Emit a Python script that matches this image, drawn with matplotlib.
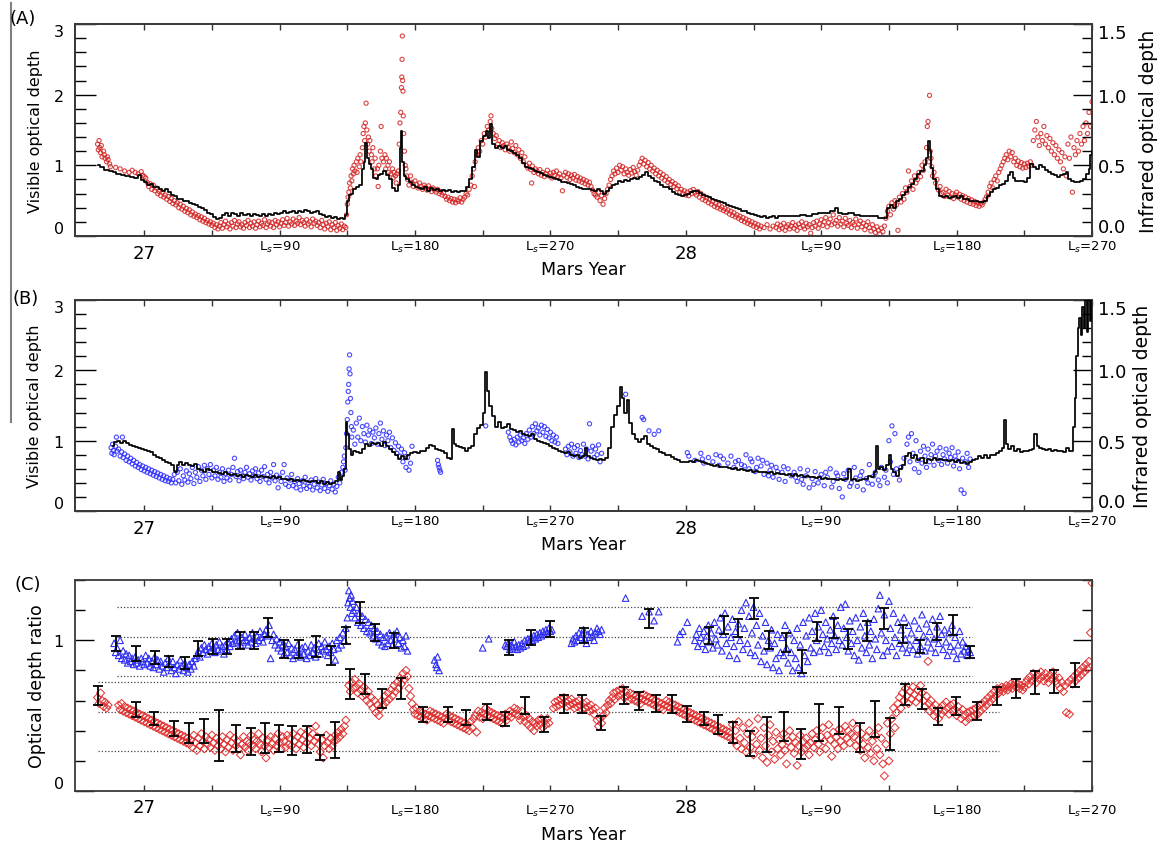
import numpy as np
import matplotlib.pyplot as plt
from matplotlib.ticker import MultipleLocator, FormatStrFormatter

plt.rcParams['font.family'] = 'DejaVu Sans'

# continuous Ls axis: MY27 Ls=0 -> 0, MY28 Ls=0 -> 360
season_ls = [0, 90, 180, 270, 360, 450, 540, 630]
season_labels = ['27', 'L$_s$=90', 'L$_s$=180', 'L$_s$=270',
                 '28', 'L$_s$=90', 'L$_s$=180', 'L$_s$=270']
year_ls = [0, 360]

# (A) infrared optical depth, black line (Ls, tau_IR)
ir_a = [
    (-31, .500), (-28, .485), (-25, .470), (-22, .460), (-20, .450), (-17, .440), (-14, .430), (-11, .425),
    (-8, .415), (-5, .410), (-3, .430), (-1, .395), (1, .380), (3, .360), (5, .370), (7, .350), (9, .345),
    (11, .330), (13, .315), (15, .335), (17, .310), (19, .290), (21, .285), (23, .265), (25, .260), (27, .250),
    (29, .245), (31, .235), (33, .225), (35, .220), (37, .205), (39, .200), (41, .185), (43, .165), (45, .155),
    (47, .135), (49, .120), (51, .130), (53, .150), (55, .160), (57, .145), (59, .165), (61, .155), (63, .145),
    (65, .160), (67, .150), (69, .155), (71, .145), (73, .155), (75, .150), (77, .140), (79, .155), (81, .145),
    (83, .155), (85, .150), (87, .165), (89, .155), (91, .165), (93, .175), (95, .160), (97, .170), (99, .180),
    (101, .165), (103, .180), (105, .170), (107, .185), (109, .175), (111, .165), (113, .170), (115, .180),
    (117, .155), (119, .150), (121, .135), (123, .145), (125, .130), (127, .135), (129, .120), (131, .130),
    (133, .120), (134.5, .150), (135.5, .250), (136.5, .290), (138, .300), (140, .330), (142, .350), (144, .360),
    (145.5, .475), (146.5, .525), (147.5, .660), (148.5, .550), (150, .510), (151.5, .475), (153, .410),
    (154.5, .400), (156, .430), (158, .440), (160, .460), (162, .430), (164, .400), (166, .340), (168, .315),
    (169.5, .360), (170.5, .625), (171.2, .740), (172, .525), (173, .425), (175, .400), (177, .380), (179, .360),
    (181, .350), (183, .340), (185, .330), (187, .350), (189, .320), (191, .340), (193, .325), (195, .330),
    (197, .320), (199, .325), (201, .320), (203, .325), (205, .310), (207, .315), (209, .310), (211, .315),
    (213, .320), (215, .350), (217, .400), (219, .490), (220.5, .610), (222, .560), (224, .675), (226, .710),
    (228, .740), (229.5, .690), (230.5, .790), (232, .650), (234, .620), (236, .640), (238, .625), (240, .635),
    (242, .610), (244, .600), (246, .590), (248, .575), (250, .550), (252, .520), (254, .490), (256, .480),
    (258, .475), (260, .460), (262, .450), (264, .445), (266, .435), (268, .425), (270, .420), (272, .410),
    (274, .400), (276, .395), (278, .385), (280, .380), (282, .375), (284, .370), (286, .360), (288, .350),
    (290, .340), (292, .335), (294, .330), (296, .330), (298, .325), (300, .320), (302, .330), (304, .320),
    (306, .300), (308, .315), (310, .340), (312, .360), (314, .365), (316, .390), (318, .380), (320, .395),
    (322, .390), (324, .400), (326, .410), (328, .405), (330, .420), (332, .430), (334, .450), (336, .425),
    (338, .410), (340, .390), (342, .380), (344, .360), (346, .350), (348, .345), (350, .330), (352, .310),
    (354, .300), (356, .290), (358, .285), (360, .290), (362, .300), (364, .310), (366, .320), (368, .315),
    (370, .305), (372, .290), (374, .280), (376, .275), (378, .265), (380, .255), (382, .245), (384, .240),
    (386, .230), (388, .220), (390, .215), (392, .205), (394, .195), (396, .190), (398, .180), (400, .175),
    (402, .165), (404, .155), (406, .150), (408, .140), (410, .135), (412, .140), (414, .130), (416, .135),
    (418, .140), (420, .130), (422, .140), (426, .145), (430, .140), (434, .145), (438, .150), (442, .145),
    (446, .155), (450, .165), (454, .165), (458, .180), (460, .195), (462, .165), (466, .155), (470, .160),
    (474, .150), (478, .145), (482, .140), (486, .140), (490, .130), (493, .125), (495, .200), (497, .220),
    (499, .200), (501, .250), (503, .260), (505, .290), (507, .310), (509, .350), (511, .370), (513, .400),
    (515, .440), (517, .460), (519, .500), (520.5, .550), (521.5, .675), (522.5, .600), (523.5, .480),
    (525, .400), (527, .330), (529, .285), (531, .275), (533, .280), (535, .270), (537, .275), (539, .285),
    (541, .270), (543, .280), (545, .260), (547, .260), (549, .250), (551, .245), (553, .250), (555, .240),
    (557, .240), (559, .250), (561, .280), (563, .310), (565, .330), (567, .340), (569, .360), (571, .370),
    (573, .390), (575, .430), (576.5, .450), (578, .410), (580, .390), (582, .390), (584, .390), (586, .385),
    (588, .410), (590, .510), (592, .490), (594, .475), (596, .500), (598, .490), (600, .470), (602, .450),
    (604, .440), (606, .430), (608, .420), (610, .430), (612, .440), (613.5, .450), (615, .400), (617, .390),
    (619, .385), (621, .385), (623, .390), (625, .400), (627, .440), (628.5, .475), (629.5, .570), (630, .600),
]

# (A) visible optical depth, red points (Ls, tau_vis)
vis_a = [
    (-31, 1.30), (-30.5, 1.22), (-30, 1.35), (-29.5, 1.25), (-29, 1.18), (-28.5, 1.28), (-28, 1.12), (-27, 1.20),
    (-26.5, 1.15), (-26, 1.10), (-25, 1.05), (-24.5, 1.12), (-24, 1.08), (-23, 1.02), (-22.5, 0.98),
    (-19, 0.97), (-16, 0.95), (-13, 0.92), (-10, 0.90), (-8, 0.93), (-6, 0.90), (-4, 0.88), (-2, 0.91),
    (-1, 0.86), (0, 0.84), (1, 0.82), (2, 0.76), (3, 0.70), (4, 0.74), (5, 0.66), (6, 0.72), (7, 0.64),
    (8, 0.68), (9, 0.60), (10, 0.63), (11, 0.57), (12, 0.62), (13, 0.55), (14, 0.58), (15, 0.52), (16, 0.56),
    (17, 0.49), (18, 0.53), (19, 0.46), (20, 0.50), (21, 0.44), (22, 0.47), (23, 0.40), (24, 0.45), (25, 0.38),
    (26, 0.42), (27, 0.35), (28, 0.39), (29, 0.33), (30, 0.37), (31, 0.30), (32, 0.34), (33, 0.28), (34, 0.31),
    (35, 0.26), (36, 0.29), (37, 0.23), (38, 0.27), (39, 0.21), (40, 0.25), (41, 0.19), (42, 0.22), (43, 0.17),
    (44, 0.20), (45, 0.15), (46, 0.18), (47, 0.12), (48, 0.16), (49, 0.10),
    (50, 0.14), (51, 0.19), (52, 0.11), (53, 0.16), (54, 0.21), (55, 0.13), (56, 0.17), (57, 0.10), (58, 0.19),
    (59, 0.14), (60, 0.22), (61, 0.12), (62, 0.17), (63, 0.20), (64, 0.13), (65, 0.16), (66, 0.11), (67, 0.19),
    (68, 0.15), (69, 0.22), (70, 0.12), (71, 0.18), (72, 0.14), (73, 0.20), (74, 0.11), (75, 0.16), (76, 0.21),
    (77, 0.13), (78, 0.18), (79, 0.15), (80, 0.23), (81, 0.12), (82, 0.17), (83, 0.20), (84, 0.14), (85, 0.19),
    (86, 0.12), (87, 0.22), (88, 0.16), (89, 0.20), (90, 0.13), (91, 0.18), (92, 0.23), (93, 0.15), (94, 0.19),
    (95, 0.25), (96, 0.14), (97, 0.20), (98, 0.17), (99, 0.24), (100, 0.15), (101, 0.21), (102, 0.18), (103, 0.26),
    (104, 0.16), (105, 0.22), (106, 0.19), (107, 0.14), (108, 0.23), (109, 0.17), (110, 0.20), (111, 0.13),
    (112, 0.24), (113, 0.18), (114, 0.21), (115, 0.15), (116, 0.19), (117, 0.12), (118, 0.22), (119, 0.16),
    (120, 0.10), (121, 0.18), (122, 0.13), (123, 0.20), (124, 0.09), (125, 0.16), (126, 0.12), (127, 0.19),
    (128, 0.08), (129, 0.15), (130, 0.11), (131, 0.17), (132, 0.09), (133, 0.14), (134, 0.12),
    (134.5, 0.30), (135, 0.45), (135.5, 0.55), (136, 0.62), (136.5, 0.75), (137, 0.68), (137.5, 0.85), (138, 0.78),
    (138.5, 0.95), (139, 0.88), (139.5, 1.00), (140, 0.92), (141, 1.05), (141.5, 0.90), (142, 1.10), (143, 0.98),
    (143.5, 1.15), (144, 1.05), (145, 1.25), (145.5, 1.45), (146, 1.55), (146.5, 1.35), (147, 1.60), (147.5, 1.88),
    (148, 1.50), (148.5, 1.30), (149, 1.40), (149.5, 1.20), (150, 1.35), (151, 1.15), (151.5, 1.05), (152, 1.25),
    (153, 0.95), (153.5, 1.10), (154, 0.85), (155, 0.95), (155.5, 0.70), (156, 1.00), (157, 1.20), (157.5, 1.55),
    (158, 1.10), (159, 1.05), (160, 1.15), (160.5, 0.95), (161, 1.10), (162, 1.00), (162.5, 0.90), (163, 1.05),
    (164, 0.88), (165, 0.95), (165.5, 0.82), (166, 0.90), (167, 0.85), (167.5, 0.75), (168, 0.88), (169, 0.92),
    (169.5, 1.30), (170, 1.60), (170.5, 1.75), (171, 2.10), (171.2, 2.25), (171.4, 2.50), (171.6, 2.83),
    (171.8, 2.20), (172, 2.05), (172.2, 1.70), (172.5, 1.45), (173, 1.20), (173.5, 1.00), (174, 0.95), (174.5, 0.85),
    (175, 0.80), (176, 0.72), (177, 0.85), (178, 0.76), (179, 0.70), (180, 0.78), (181, 0.73), (182, 0.68),
    (183, 0.75), (184, 0.70), (185, 0.66), (186, 0.72), (187, 0.69), (188, 0.65), (189, 0.71), (190, 0.67),
    (191, 0.63), (192, 0.68), (193, 0.65), (194, 0.62), (195, 0.66), (196, 0.60), (197, 0.63), (198, 0.58),
    (199, 0.61), (200, 0.56), (201, 0.52), (202, 0.55), (203, 0.50), (204, 0.53), (205, 0.48), (206, 0.52),
    (207, 0.47), (208, 0.51), (209, 0.49), (210, 0.54), (211, 0.48), (212, 0.52), (213, 0.55), (214, 0.60),
    (215, 0.58), (216, 0.66), (217, 0.72), (218, 0.85), (219, 0.95), (219.5, 0.70), (220, 1.05), (221, 1.15),
    (222, 1.25), (223, 1.20), (224, 1.35), (225, 1.30), (226, 1.45), (227, 1.40), (228, 1.55), (229, 1.50),
    (230, 1.62), (230.5, 1.70), (231, 1.52), (232, 1.45), (233, 1.38), (234, 1.42), (235, 1.30), (236, 1.35),
    (237, 1.25), (238, 1.32), (239, 1.28), (240, 1.22), (241, 1.30), (242, 1.26), (243, 1.20), (244, 1.33),
    (245, 1.24), (246, 1.18), (247, 1.28), (248, 1.15), (249, 1.22), (250, 1.10), (251, 1.18), (252, 1.05),
    (253, 1.12), (254, 1.00), (255, 0.96), (256, 1.03), (257, 0.94), (257.5, 0.75), (258, 0.99), (259, 0.90),
    (260, 0.95), (261, 0.92), (262, 0.88), (263, 0.94), (264, 0.86), (265, 0.90), (266, 0.84), (267, 0.88),
    (268, 0.93), (269, 0.85), (270, 0.89), (271, 0.82), (272, 0.90), (273, 0.86), (274, 0.92), (275, 0.84),
    (276, 0.88), (277, 0.82), (278, 0.64), (279, 0.86), (280, 0.90), (281, 0.83), (282, 0.88), (283, 0.80),
    (284, 0.86), (285, 0.82), (286, 0.87), (287, 0.79), (288, 0.84), (289, 0.78), (290, 0.82), (291, 0.76),
    (292, 0.80), (293, 0.74), (294, 0.78), (295, 0.72), (296, 0.76), (297, 0.70), (298, 0.65), (299, 0.60),
    (300, 0.58), (301, 0.55), (302, 0.62), (303, 0.50), (304, 0.57), (305, 0.45), (306, 0.53), (307, 0.60),
    (308, 0.66), (309, 0.72), (310, 0.80), (311, 0.85), (312, 0.92), (313, 0.88), (314, 0.96), (315, 0.90),
    (316, 1.00), (317, 0.93), (318, 0.98), (319, 0.88), (320, 0.95), (321, 0.90), (322, 0.86), (323, 0.94),
    (324, 0.89), (325, 0.97), (326, 0.91), (327, 0.86), (328, 0.93), (329, 1.00), (330, 1.05), (331, 1.10),
    (332, 1.02), (333, 1.07), (334, 0.98), (335, 1.04), (336, 0.95), (337, 1.00), (338, 0.92), (339, 0.96),
    (340, 0.88), (341, 0.93), (342, 0.85), (343, 0.90), (344, 0.82), (345, 0.87), (346, 0.79), (347, 0.84),
    (348, 0.76), (349, 0.80), (350, 0.73), (351, 0.77), (352, 0.70), (353, 0.74), (354, 0.67), (355, 0.71),
    (356, 0.62), (357, 0.66), (358, 0.60), (359, 0.64), (360, 0.58), (361, 0.62), (362, 0.57), (363, 0.64),
    (364, 0.60), (365, 0.66), (366, 0.61), (367, 0.58), (368, 0.63), (369, 0.55), (370, 0.60), (371, 0.52),
    (372, 0.57), (373, 0.50), (374, 0.54), (375, 0.47), (376, 0.52), (377, 0.45), (378, 0.49), (379, 0.42),
    (380, 0.46), (381, 0.40), (382, 0.44), (383, 0.38), (384, 0.41), (385, 0.36), (386, 0.39), (387, 0.34),
    (388, 0.37), (389, 0.31), (390, 0.35), (391, 0.29), (392, 0.33), (393, 0.27), (394, 0.30), (395, 0.25),
    (396, 0.28), (397, 0.22), (398, 0.26), (399, 0.20), (400, 0.24), (401, 0.18), (402, 0.22), (403, 0.16),
    (404, 0.20), (405, 0.14), (406, 0.18), (407, 0.12), (408, 0.16), (409, 0.10), (410, 0.14), (412, 0.12),
    (414, 0.16), (416, 0.10), (418, 0.14), (420, 0.12), (421, 0.17), (422, 0.09), (423, 0.15), (424, 0.11),
    (425, 0.18), (426, 0.08), (427, 0.13), (428, 0.16), (429, 0.10), (430, 0.14), (431, 0.19), (432, 0.11),
    (433, 0.15), (434, 0.08), (435, 0.17), (436, 0.12), (437, 0.20), (438, 0.14), (439, 0.10), (440, 0.18),
    (441, 0.13), (442, 0.16), (443, 0.04), (444, 0.12), (445, 0.19), (446, 0.14), (447, 0.21), (448, 0.11),
    (449, 0.17), (450, 0.23), (451, 0.15), (452, 0.20), (453, 0.26), (454, 0.13), (455, 0.19), (456, 0.24),
    (457, 0.16), (458, 0.30), (459, 0.18), (460, 0.22), (461, 0.14), (462, 0.26), (463, 0.17), (464, 0.21),
    (465, 0.13), (466, 0.25), (467, 0.18), (468, 0.15), (469, 0.22), (470, 0.12), (471, 0.19), (472, 0.16),
    (473, 0.24), (474, 0.11), (475, 0.17), (476, 0.21), (477, 0.13), (478, 0.18), (479, 0.09), (480, 0.15),
    (481, 0.20), (482, 0.12), (483, 0.07), (484, 0.16), (485, 0.10), (486, 0.05), (487, 0.13), (488, 0.08),
    (489, 0.03), (490, 0.11), (491, 0.06), (492, 0.14), (493, 0.25), (494, 0.35), (495, 0.42), (496, 0.30),
    (497, 0.47), (498, 0.38), (499, 0.50), (500, 0.44), (501, 0.08), (502, 0.55), (503, 0.48), (504, 0.60),
    (505, 0.52), (506, 0.68), (507, 0.62), (508, 0.92), (509, 0.70), (510, 0.78), (511, 0.66), (512, 0.85),
    (513, 0.75), (514, 0.80), (515, 0.90), (516, 0.84), (517, 1.00), (518, 0.93), (519, 1.05), (520, 1.25),
    (520.5, 1.55), (521, 1.62), (521.5, 1.05), (522, 1.99), (522.5, 1.20), (523, 1.10), (523.5, 0.98), (524, 0.85),
    (525, 0.90), (526, 0.75), (527, 0.80), (528, 0.65), (529, 0.70), (530, 0.60), (531, 0.62), (532, 0.56),
    (533, 0.66), (534, 0.58), (535, 0.63), (536, 0.55), (537, 0.60), (538, 0.53), (539, 0.58), (540, 0.62),
    (541, 0.55), (542, 0.59), (543, 0.52), (544, 0.57), (545, 0.50), (546, 0.55), (547, 0.48), (548, 0.53),
    (549, 0.46), (550, 0.51), (551, 0.45), (552, 0.49), (553, 0.43), (554, 0.47), (555, 0.42), (556, 0.46),
    (557, 0.44), (558, 0.48), (559, 0.52), (560, 0.56), (561, 0.62), (562, 0.70), (563, 0.75), (564, 0.68),
    (565, 0.80), (566, 0.85), (567, 0.78), (568, 0.90), (569, 0.95), (570, 1.00), (571, 1.05), (572, 1.10),
    (573, 1.15), (574, 1.08), (575, 1.20), (576, 1.12), (577, 1.18), (578, 1.05), (579, 1.10), (580, 1.00),
    (581, 1.06), (582, 0.98), (583, 1.04), (584, 0.96), (585, 1.02), (586, 0.97), (587, 1.03), (588, 0.99),
    (589, 1.05), (590, 1.00), (591, 1.35), (592, 1.50), (593, 1.62), (594, 1.40), (595, 1.28), (596, 1.45),
    (597, 1.35), (598, 1.55), (599, 1.30), (600, 1.42), (601, 1.25), (602, 1.38), (603, 1.20), (604, 1.32),
    (605, 1.15), (606, 1.28), (607, 1.10), (608, 1.22), (609, 1.05), (610, 1.18), (611, 0.95), (612, 1.12),
    (613, 0.85), (614, 1.30), (615, 1.10), (616, 1.40), (617, 0.62), (618, 1.25), (619, 1.15), (620, 1.35),
    (621, 1.20), (622, 1.45), (623, 1.30), (624, 1.55), (625, 1.35), (626, 1.60), (627, 1.45), (628, 1.75),
    (629, 1.55), (630, 1.90),
]

# (B) infrared optical depth, black line (Ls, tau_IR)
ir_b = [
    (-21, .465), (-19, .490), (-17, .500), (-15, .485), (-13, .495), (-11, .480), (-9, .470), (-7, .465),
    (-5, .455), (-3, .450), (-1, .440), (1, .435), (3, .425), (5, .420), (7, .400), (9, .385), (11, .375),
    (13, .360), (15, .350), (17, .340), (19, .330), (20, .285), (21, .280), (22, .330), (24, .350), (26, .330),
    (28, .340), (30, .330), (32, .320), (34, .335), (36, .300), (38, .290), (40, .280), (42, .300), (44, .290),
    (46, .275), (48, .280), (50, .270), (52, .265), (54, .275), (56, .260), (58, .255), (60, .265), (62, .250),
    (64, .255), (66, .245), (68, .255), (70, .250), (72, .245), (74, .255), (76, .240), (78, .250), (80, .240),
    (82, .245), (84, .235), (86, .250), (88, .235), (90, .240), (92, .225), (94, .230), (96, .220), (98, .225),
    (100, .215), (102, .220), (104, .210), (106, .220), (108, .215), (110, .205), (112, .215), (114, .210),
    (116, .200), (118, .210), (120, .195), (122, .205), (124, .190), (126, .200), (128, .210), (129.5, .275),
    (130.5, .220), (132, .250), (133.5, .300), (134.5, .630), (135.5, .550), (136.5, .440), (138, .400),
    (140, .430), (142, .420), (144, .410), (146, .440), (148, .475), (150, .460), (152, .480), (154, .475),
    (156, .485), (158, .465), (160, .490), (162, .460), (164, .440), (166, .420), (168, .400), (170, .370),
    (172, .390), (174, .370), (176, .400), (178, .410), (180, .420), (182, .415), (184, .430), (186, .425),
    (188, .450), (190, .470), (192, .460), (194, .440), (196, .435), (198, .425), (200, .410), (202, .380),
    (204, .370), (205.5, .585), (206.5, .475), (208, .465), (210, .455), (212, .450), (214, .430), (216, .450),
    (218, .465), (220, .550), (222, .590), (224, .610), (226, .700), (227.5, .985), (228.5, .850), (230, .750),
    (232, .675), (234, .600), (236, .630), (238, .590), (240, .600), (242, .620), (244, .580), (246, .575),
    (248, .560), (250, .570), (252, .550), (254, .540), (256, .530), (258, .550), (260, .515), (262, .500),
    (264, .490), (266, .480), (268, .475), (270, .460), (272, .450), (274, .440), (276, .425), (278, .420),
    (280, .410), (282, .420), (284, .400), (286, .390), (288, .400), (290, .380), (292, .390), (294, .450),
    (295, .390), (297, .375), (299, .370), (301, .360), (303, .370), (305, .360), (307, .375), (309, .450),
    (311, .600), (313, .680), (315, .750), (317, .880), (318.5, .800), (320, .700), (321.5, .790), (323, .625),
    (325, .550), (327, .510), (329, .490), (331, .510), (333, .535), (335, .475), (337, .465), (339, .450),
    (341, .440), (343, .420), (345, .410), (347, .400), (349, .395), (351, .385), (353, .370), (355, .365),
    (357, .350), (359, .345), (361, .350), (363, .355), (365, .350), (367, .360), (369, .355), (371, .345),
    (373, .340), (375, .335), (377, .330), (379, .320), (381, .325), (383, .315), (385, .310), (387, .315),
    (389, .305), (391, .300), (393, .305), (395, .295), (397, .300), (399, .290), (401, .285), (403, .290),
    (405, .280), (407, .285), (409, .275), (411, .280), (413, .275), (415, .270), (417, .275), (419, .265),
    (421, .270), (423, .260), (425, .265), (427, .255), (429, .260), (431, .250), (433, .260), (435, .250),
    (437, .255), (439, .245), (441, .250), (443, .240), (445, .245), (447, .235), (449, .240), (451, .230),
    (453, .235), (455, .230), (457, .225), (459, .230), (461, .220), (463, .225), (465, .220), (467, .225),
    (469, .300), (470, .220), (472, .225), (474, .215), (476, .220), (478, .230), (480, .225), (482, .250),
    (484, .240), (486, .275), (487.5, .460), (488.5, .300), (490, .310), (492, .290), (494, .330), (495.5, .400),
    (497, .300), (499, .275), (501, .250), (503, .300), (505, .330), (507, .390), (509, .415), (511, .380),
    (513, .400), (515, .360), (517, .380), (519, .340), (521, .370), (523, .360), (525, .375), (527, .360),
    (529, .370), (531, .360), (533, .365), (535, .355), (537, .360), (539, .350), (541, .360), (543, .340),
    (545, .350), (547, .335), (549, .345), (551, .360), (553, .370), (555, .390), (557, .380), (559, .395),
    (561, .380), (563, .400), (565, .395), (567, .410), (569, .425), (571, .450), (572.5, .650), (573.5, .475),
    (575, .440), (577, .460), (579, .430), (581, .440), (583, .420), (585, .430), (587, .425), (589, .435),
    (591, .440), (592.5, .550), (594, .460), (596, .450), (598, .440), (600, .435), (602, .440), (604, .430),
    (606, .435), (608, .425), (610, .430), (612, .420), (614, .450), (615, .425), (617, .430), (618, .600),
    (619, .800), (620, 1.100), (621, 1.300), (622, 1.375), (623, 1.250), (624, 1.450), (625, 1.300),
    (626, 1.500), (627, 1.275), (628, 1.500), (629, 1.350), (630, 1.500),
]

# (B) visible optical depth, blue points (Ls, tau_vis)
vis_b = [
    (-22, 0.90), (-21.5, 0.82), (-21, 0.95), (-20.5, 0.86), (-20, 0.80), (-19, 0.92), (-18.5, 1.05), (-18, 0.85),
    (-17, 0.88), (-16, 0.78), (-15, 0.84), (-14.5, 1.05), (-14, 0.76), (-13, 0.81), (-12, 0.72), (-11, 0.78),
    (-10, 0.70), (-9, 0.75), (-8, 0.67), (-7, 0.72), (-6, 0.64), (-5, 0.69), (-4, 0.62), (-3, 0.66), (-2, 0.59),
    (-1, 0.64), (0, 0.57), (1, 0.62), (2, 0.55), (3, 0.60), (4, 0.53), (5, 0.58), (6, 0.51), (7, 0.56), (8, 0.49),
    (9, 0.54), (10, 0.47), (11, 0.52), (12, 0.45), (13, 0.50), (14, 0.43), (15, 0.48), (16, 0.42), (17, 0.46),
    (18, 0.40), (19, 0.45), (20, 0.52), (21, 0.40), (22, 0.55), (23, 0.43), (24, 0.60), (25, 0.38), (26, 0.50),
    (27, 0.44), (28, 0.57), (29, 0.41), (30, 0.53), (31, 0.46), (32, 0.62), (33, 0.39), (34, 0.55), (35, 0.48),
    (36, 0.63), (37, 0.42), (38, 0.58), (39, 0.50), (40, 0.65), (41, 0.45), (42, 0.60), (43, 0.52), (44, 0.66),
    (45, 0.47), (46, 0.58), (47, 0.50), (48, 0.62), (49, 0.45), (50, 0.55), (51, 0.48), (52, 0.60), (53, 0.42),
    (54, 0.53), (55, 0.47), (56, 0.58), (57, 0.44), (58, 0.52), (59, 0.62), (60, 0.75), (61, 0.49), (62, 0.56),
    (63, 0.43), (64, 0.58), (65, 0.50), (66, 0.46), (67, 0.55), (68, 0.62), (69, 0.48), (70, 0.53), (71, 0.44),
    (72, 0.57), (73, 0.50), (74, 0.60), (75, 0.46), (76, 0.54), (77, 0.42), (78, 0.58), (79, 0.49), (80, 0.63),
    (81, 0.45), (82, 0.52), (83, 0.40), (84, 0.55), (85, 0.47), (86, 0.66), (87, 0.43), (88, 0.51), (89, 0.33),
    (90, 0.48), (91, 0.42), (92, 0.55), (93, 0.66), (94, 0.38), (95, 0.47), (96, 0.35), (97, 0.44), (98, 0.52),
    (99, 0.36), (100, 0.42), (101, 0.33), (102, 0.46), (103, 0.39), (104, 0.30), (105, 0.43), (106, 0.36),
    (107, 0.48), (108, 0.32), (109, 0.40), (110, 0.35), (111, 0.44), (112, 0.30), (113, 0.38), (114, 0.46),
    (115, 0.33), (116, 0.41), (117, 0.29), (118, 0.37), (119, 0.45), (120, 0.32), (121, 0.39), (122, 0.28),
    (123, 0.36), (124, 0.43), (125, 0.31), (126, 0.38), (127, 0.27), (128, 0.35), (129, 0.48), (130, 0.40),
    (131, 0.55), (132, 0.62), (132.5, 0.70), (133, 0.78), (133.5, 0.58), (134, 0.90), (134.5, 1.10), (135, 1.30),
    (135.3, 1.55), (135.6, 1.70), (135.9, 1.80), (136.2, 2.02), (136.5, 2.22), (136.8, 1.95), (137.1, 1.60),
    (137.4, 1.40), (137.7, 1.20), (138, 1.05), (139, 1.15), (140, 0.95), (141, 1.25), (142, 1.05), (143, 1.32),
    (144, 1.00), (145, 1.20), (146, 1.10), (147, 0.98), (148, 1.22), (149, 1.08), (150, 1.15), (151, 0.96),
    (152, 1.12), (153, 1.04), (154, 1.18), (155, 0.95), (156, 1.10), (157, 1.25), (158, 1.02), (159, 1.14),
    (160, 0.93), (161, 1.08), (162, 1.00), (163, 1.12), (164, 0.90), (165, 1.04), (166, 0.86), (167, 0.97),
    (168, 0.82), (169, 0.92), (170, 0.78), (171, 0.88), (172, 0.70), (173, 0.83), (174, 0.62), (175, 0.76),
    (176, 0.58), (177, 0.68), (178, 0.92), (195, 0.72), (195.5, 0.66), (196, 0.62), (196.5, 0.58), (197, 0.55),
    (227, 1.21), (242, 1.12), (243, 1.05), (244, 1.00), (245, 0.96), (246, 1.02), (247, 0.94), (248, 1.05),
    (249, 0.98), (250, 1.08), (251, 1.00), (252, 1.04), (253, 0.96), (254, 1.10), (255, 1.02), (256, 1.15),
    (257, 1.05), (258, 1.20), (259, 1.10), (260, 1.24), (261, 1.14), (262, 1.18), (263, 1.08), (264, 1.22),
    (265, 1.12), (266, 1.20), (267, 1.06), (268, 1.16), (269, 1.04), (270, 1.12), (271, 1.00), (272, 1.08),
    (273, 0.98), (274, 1.05), (275, 0.96), (280, 0.88), (281, 0.80), (282, 0.92), (283, 0.84), (284, 0.95),
    (285, 0.78), (286, 0.90), (287, 0.82), (288, 0.93), (289, 0.76), (290, 0.86), (291, 0.80), (292, 0.95),
    (293, 0.78), (294, 0.88), (295, 0.74), (296, 1.24), (297, 0.85), (298, 0.92), (299, 0.76), (300, 0.88),
    (301, 0.80), (302, 0.94), (303, 0.70), (304, 0.82), (320, 1.66), (331, 1.33), (332, 1.30), (335.5, 1.14),
    (339, 1.09), (342, 1.14), (361, 0.83), (362, 0.78), (366, 0.72), (370, 0.82), (371, 0.74), (372, 0.68),
    (375, 0.76), (378, 0.70), (380, 0.80), (382, 0.65), (383, 0.78), (385, 0.74), (388, 0.68), (390, 0.78),
    (392, 0.62), (393, 0.70), (395, 0.72), (397, 0.66), (399, 0.64), (400, 0.80), (402, 0.60), (403, 0.74),
    (404, 0.70), (406, 0.56), (407, 0.62), (408, 0.75), (410, 0.64), (411, 0.72), (412, 0.52), (414, 0.68),
    (415, 0.50), (416, 0.58), (417, 0.65), (418, 0.48), (420, 0.62), (421, 0.56), (422, 0.45), (424, 0.55),
    (425, 0.63), (426, 0.42), (428, 0.60), (430, 0.50), (432, 0.55), (433, 0.48), (434, 0.42), (436, 0.60),
    (437, 0.45), (438, 0.38), (440, 0.50), (441, 0.58), (442, 0.33), (444, 0.46), (445, 0.38), (446, 0.56),
    (448, 0.40), (449, 0.47), (450, 0.52), (452, 0.36), (453, 0.55), (454, 0.48), (456, 0.60), (457, 0.34),
    (458, 0.42), (460, 0.54), (461, 0.50), (462, 0.32), (464, 0.20), (465, 0.53), (466, 0.45), (468, 0.58),
    (469, 0.35), (470, 0.40), (472, 0.62), (473, 0.47), (474, 0.35), (476, 0.50), (477, 0.56), (478, 0.30),
    (480, 0.46), (481, 0.40), (482, 0.66), (484, 0.38), (485, 0.50), (486, 0.55), (488, 0.44), (489, 0.36),
    (490, 0.62), (492, 0.48), (493, 0.58), (494, 0.40), (495, 1.00), (496, 0.70), (497, 1.21), (498, 0.52),
    (499, 1.10), (500, 0.60), (502, 0.44), (503, 0.62), (505, 0.75), (507, 0.95), (508, 1.05), (509, 0.70),
    (510, 1.10), (511, 0.82), (512, 0.60), (513, 1.00), (514, 0.72), (515, 0.55), (516, 0.85), (517, 0.68),
    (518, 0.92), (519, 0.78), (520, 0.62), (521, 0.88), (522, 0.70), (523, 0.80), (524, 0.95), (525, 0.65),
    (526, 0.78), (527, 0.85), (528, 0.72), (529, 0.90), (530, 0.66), (531, 0.80), (532, 0.74), (533, 0.88),
    (534, 0.68), (535, 0.82), (536, 0.76), (537, 0.90), (538, 0.64), (539, 0.78), (540, 0.72), (541, 0.84),
    (542, 0.60), (543, 0.30), (544, 0.75), (545, 0.25), (546, 0.70), (547, 0.82), (548, 0.62), (549, 0.74),
]

# (C) optical depth ratios (Ls, ratio)
ratio_blue = [
    (-20, 0.98), (-19, 0.92), (-18, 0.95), (-17, 0.90), (-16, 1.00), (-15, 0.88), (-14, 0.93), (-13, 0.87),
    (-12, 0.91), (-11, 0.85), (-10, 0.90), (-9, 0.86), (-8, 0.88), (-7, 0.84), (-6, 0.89), (-5, 0.85),
    (-4, 0.87), (-3, 0.83), (-2, 0.88), (-1, 0.86), (0, 0.84), (1, 0.90), (2, 0.85), (3, 0.88), (4, 0.83),
    (5, 0.86), (6, 0.82), (7, 0.89), (8, 0.84), (9, 0.87), (10, 0.81), (11, 0.86), (12, 0.83), (13, 0.79),
    (14, 0.85), (15, 0.82), (16, 0.88), (17, 0.84), (18, 0.80), (19, 0.86), (20, 0.82), (21, 0.78), (22, 0.84),
    (23, 0.81), (24, 0.87), (25, 0.83), (26, 0.80), (27, 0.85), (28, 0.82), (29, 0.79), (30, 0.84), (31, 0.81),
    (32, 0.86), (33, 0.83), (34, 0.88), (35, 0.90), (36, 0.93), (37, 0.89), (38, 0.95), (39, 0.92), (40, 0.97),
    (41, 0.94), (42, 0.91), (43, 0.96), (44, 0.93), (45, 0.98), (46, 0.95), (47, 0.92), (48, 0.97), (49, 0.94),
    (50, 0.99), (51, 0.93), (52, 0.96), (53, 0.91), (54, 0.97), (55, 0.94), (56, 0.99), (57, 0.96), (58, 1.01),
    (59, 0.98), (60, 1.03), (61, 0.99), (62, 1.05), (63, 1.00), (64, 0.97), (65, 1.02), (66, 0.99), (67, 1.04),
    (68, 1.00), (69, 0.97), (70, 1.02), (71, 0.99), (72, 1.05), (73, 1.01), (74, 0.98), (75, 1.03), (76, 1.00),
    (77, 1.06), (78, 1.02), (79, 0.99), (80, 1.04), (81, 1.07), (82, 1.03), (83, 1.10), (84, 0.88), (85, 1.00),
    (86, 1.04), (87, 0.97), (88, 1.01), (89, 0.95), (90, 0.99), (91, 0.93), (92, 0.97), (93, 0.91), (94, 0.96),
    (95, 0.92), (96, 0.98), (97, 0.90), (98, 0.95), (99, 0.88), (100, 0.94), (101, 0.90), (102, 0.97),
    (103, 0.92), (104, 0.89), (105, 0.95), (106, 0.91), (107, 0.96), (108, 0.88), (109, 0.93), (110, 0.90),
    (111, 0.97), (112, 0.92), (113, 0.95), (114, 0.89), (115, 0.94), (116, 0.98), (117, 0.91), (118, 0.96),
    (119, 0.93), (120, 0.99), (121, 0.94), (122, 0.90), (123, 0.96), (124, 0.92), (125, 0.98), (126, 0.94),
    (127, 0.87), (128, 1.00), (129, 0.95), (130, 1.02), (131, 0.97), (132, 1.05), (133, 1.00), (134, 1.08),
    (135, 1.15), (135.5, 1.25), (136, 1.33), (136.5, 1.28), (137, 1.22), (137.5, 1.30), (138, 1.18), (138.5, 1.26),
    (139, 1.20), (140, 1.15), (141, 1.22), (142, 1.12), (143, 1.18), (144, 1.10), (145, 1.16), (146, 1.08),
    (147, 1.14), (148, 1.06), (149, 1.12), (150, 1.05), (151, 1.10), (152, 1.03), (153, 1.08), (154, 1.01),
    (155, 1.06), (156, 0.99), (157, 1.04), (158, 0.97), (159, 1.02), (160, 0.96), (161, 1.03), (162, 0.98),
    (163, 1.05), (164, 1.00), (165, 0.97), (166, 1.04), (167, 1.01), (168, 1.06), (169, 0.98), (170, 1.02),
    (171, 0.95), (172, 1.00), (173, 0.96), (174, 1.03), (175, 0.93), (193, 0.87), (194, 0.84), (194.5, 0.82),
    (195, 0.89), (196, 0.80), (225, 0.95), (229, 1.01), (240, 0.97), (241, 0.96), (242, 0.98), (243, 0.94),
    (244, 0.97), (245, 0.95), (246, 0.99), (247, 0.96), (248, 0.94), (249, 0.97), (250, 0.95), (251, 0.98),
    (252, 0.96), (253, 1.00), (254, 0.97), (255, 1.01), (256, 0.99), (257, 1.02), (258, 1.00), (259, 1.03),
    (260, 1.01), (261, 1.04), (262, 1.02), (263, 1.05), (264, 1.03), (265, 1.06), (266, 1.04), (267, 1.07),
    (268, 1.05), (269, 1.08), (270, 1.06), (271, 1.07), (284, 0.98), (285, 1.01), (286, 0.99), (287, 1.03),
    (288, 1.00), (289, 1.05), (290, 1.02), (291, 1.04), (292, 1.07), (293, 1.01), (294, 0.98), (295, 1.04),
    (296, 1.02), (297, 1.06), (298, 1.03), (299, 1.00), (300, 1.05), (301, 1.08), (302, 1.06), (303, 1.04),
    (304, 1.07), (320, 1.28), (331, 1.16), (335.6, 1.19), (338.9, 1.13), (342, 1.19), (354.5, 0.99),
    (356, 1.04), (358, 1.06), (361, 1.12), (366, 1.00), (367, 1.04), (368, 0.96), (369, 1.08), (370, 1.02),
    (371, 0.98), (372, 1.06), (373, 0.94), (374, 1.03), (375, 1.10), (376, 0.99), (377, 1.05), (378, 0.95),
    (379, 1.12), (380, 1.01), (381, 0.97), (382, 1.07), (383, 1.15), (384, 0.93), (385, 1.04), (386, 1.18),
    (387, 0.98), (388, 1.09), (389, 0.90), (390, 1.02), (391, 1.14), (392, 0.96), (393, 1.06), (394, 0.88),
    (395, 1.11), (396, 1.00), (397, 1.20), (398, 0.94), (399, 1.08), (400, 1.25), (401, 0.98), (402, 1.16),
    (403, 0.92), (404, 1.05), (405, 1.22), (406, 0.90), (407, 1.10), (408, 0.97), (409, 1.18), (410, 0.86),
    (411, 1.03), (412, 0.93), (413, 1.12), (414, 0.84), (415, 1.00), (416, 0.95), (417, 1.07), (418, 0.82),
    (419, 0.98), (420, 0.88), (421, 1.04), (422, 0.80), (423, 0.92), (424, 1.02), (425, 0.90), (426, 1.10),
    (427, 0.95), (428, 0.85), (429, 1.05), (430, 0.92), (431, 0.80), (432, 1.00), (433, 0.88), (434, 1.08),
    (435, 0.82), (436, 0.97), (437, 0.78), (438, 1.12), (439, 0.90), (440, 1.03), (441, 0.86), (442, 1.15),
    (443, 0.95), (444, 1.06), (445, 0.92), (446, 1.18), (447, 1.00), (448, 1.09), (449, 0.93), (450, 1.20),
    (451, 1.04), (452, 0.96), (453, 1.12), (454, 1.01), (455, 0.92), (456, 1.07), (457, 0.98), (458, 1.16),
    (459, 1.03), (460, 0.94), (461, 1.10), (462, 1.00), (463, 1.22), (464, 0.97), (465, 1.08), (466, 1.24),
    (467, 1.02), (468, 0.93), (469, 1.13), (470, 0.98), (471, 1.06), (472, 0.90), (473, 1.15), (474, 1.00),
    (475, 0.87), (476, 1.09), (477, 0.95), (478, 1.18), (479, 1.03), (480, 0.92), (481, 1.12), (482, 0.97),
    (483, 1.06), (484, 0.88), (485, 1.14), (486, 1.01), (487, 0.94), (488, 1.21), (489, 1.30), (490, 1.05),
    (491, 0.90), (492, 1.17), (493, 1.00), (494, 0.93), (495, 1.26), (496, 1.08), (497, 0.96), (498, 1.18),
    (499, 1.02), (500, 0.90), (501, 1.12), (502, 0.98), (503, 1.07), (504, 0.95), (505, 1.15), (506, 1.01),
    (507, 0.92), (508, 1.10), (509, 0.97), (510, 1.05), (511, 0.94), (512, 1.13), (513, 1.00), (514, 0.91),
    (515, 1.08), (516, 0.96), (517, 1.17), (518, 1.03), (519, 0.93), (520, 1.11), (521, 0.99), (522, 1.06),
    (523, 0.95), (524, 1.14), (525, 1.01), (526, 0.92), (527, 1.09), (528, 0.98), (529, 1.16), (530, 1.04),
    (531, 0.94), (532, 1.07), (533, 0.99), (534, 0.90), (535, 1.05), (536, 0.96), (537, 1.10), (538, 0.93),
    (539, 1.02), (540, 0.88), (541, 0.97), (542, 1.06), (543, 0.91), (544, 0.99), (545, 0.93), (546, 0.96),
    (547, 0.90), (548, 0.94), (549, 0.92),
]

ratio_red = [
    (-31, 0.62), (-30, 0.58), (-29, 0.65), (-28, 0.60), (-27, 0.56), (-26, 0.59), (-25, 0.55), (-24, 0.57),
    (-17, 0.57), (-16, 0.54), (-15, 0.58), (-14, 0.53), (-13, 0.56), (-12, 0.52), (-11, 0.55), (-10, 0.51),
    (-9, 0.54), (-8, 0.50), (-7, 0.53), (-6, 0.49), (-5, 0.52), (-4, 0.48), (-3, 0.51), (-2, 0.47), (-1, 0.50),
    (0, 0.46), (1, 0.49), (2, 0.45), (3, 0.48), (4, 0.44), (5, 0.47), (6, 0.43), (7, 0.46), (8, 0.42), (9, 0.45),
    (10, 0.41), (11, 0.44), (12, 0.40), (13, 0.43), (14, 0.39), (15, 0.42), (16, 0.38), (17, 0.41), (18, 0.37),
    (19, 0.40), (20, 0.36), (21, 0.39), (22, 0.35), (23, 0.38), (24, 0.34), (25, 0.37), (26, 0.33), (27, 0.36),
    (28, 0.32), (29, 0.35), (30, 0.31), (31, 0.34), (32, 0.29), (33, 0.37), (34, 0.32), (35, 0.27), (36, 0.35),
    (37, 0.30), (38, 0.38), (39, 0.33), (40, 0.28), (41, 0.36), (42, 0.31), (43, 0.34), (44, 0.29), (45, 0.37),
    (46, 0.32), (47, 0.27), (48, 0.35), (49, 0.30), (50, 0.33), (51, 0.28), (52, 0.36), (53, 0.31), (54, 0.26),
    (55, 0.34), (56, 0.29), (57, 0.37), (58, 0.32), (59, 0.27), (60, 0.35), (61, 0.30), (62, 0.33), (63, 0.28),
    (64, 0.24), (65, 0.31), (66, 0.36), (67, 0.29), (68, 0.33), (69, 0.27), (70, 0.32), (71, 0.37), (72, 0.30),
    (73, 0.34), (74, 0.28), (75, 0.33), (76, 0.38), (77, 0.31), (78, 0.26), (79, 0.35), (80, 0.30), (81, 0.22),
    (82, 0.34), (83, 0.29), (84, 0.36), (85, 0.31), (86, 0.27), (87, 0.35), (88, 0.30), (89, 0.38), (90, 0.32),
    (91, 0.28), (92, 0.36), (93, 0.33), (94, 0.29), (95, 0.37), (96, 0.31), (97, 0.35), (98, 0.30), (99, 0.38),
    (100, 0.33), (101, 0.28), (102, 0.36), (103, 0.31), (104, 0.39), (105, 0.34), (106, 0.29), (107, 0.37),
    (108, 0.32), (109, 0.40), (110, 0.35), (111, 0.30), (112, 0.38), (113, 0.33), (114, 0.43), (115, 0.36),
    (116, 0.31), (117, 0.26), (118, 0.34), (119, 0.22), (120, 0.30), (121, 0.37), (122, 0.32), (123, 0.28),
    (124, 0.35), (125, 0.30), (126, 0.33), (127, 0.37), (128, 0.34), (129, 0.39), (130, 0.36), (131, 0.41),
    (132, 0.38), (133, 0.43), (134, 0.47), (136, 0.70), (137, 0.66), (138, 0.72), (139, 0.68), (140, 0.74),
    (141, 0.69), (142, 0.65), (143, 0.71), (144, 0.67), (145, 0.63), (146, 0.69), (147, 0.64), (148, 0.60),
    (149, 0.66), (150, 0.58), (151, 0.62), (152, 0.55), (153, 0.60), (154, 0.52), (155, 0.57), (156, 0.50),
    (157, 0.55), (158, 0.60), (159, 0.57), (160, 0.63), (161, 0.59), (162, 0.65), (163, 0.61), (164, 0.67),
    (165, 0.63), (166, 0.70), (167, 0.66), (168, 0.72), (169, 0.68), (170, 0.75), (171, 0.71), (172, 0.78),
    (173, 0.74), (174, 0.80), (175, 0.76), (176, 0.68), (177, 0.63), (178, 0.58), (179, 0.54), (180, 0.51),
    (181, 0.55), (182, 0.50), (183, 0.53), (184, 0.49), (185, 0.52), (186, 0.48), (187, 0.51), (188, 0.47),
    (189, 0.50), (190, 0.53), (191, 0.49), (192, 0.52), (193, 0.48), (194, 0.51), (195, 0.47), (196, 0.50),
    (197, 0.46), (198, 0.49), (199, 0.45), (200, 0.48), (201, 0.51), (202, 0.47), (203, 0.50), (204, 0.46),
    (205, 0.49), (206, 0.45), (207, 0.48), (208, 0.44), (209, 0.47), (210, 0.43), (211, 0.46), (212, 0.42),
    (213, 0.45), (214, 0.41), (215, 0.44), (216, 0.40), (217, 0.46), (218, 0.42), (219, 0.48), (220, 0.50),
    (221, 0.39), (222, 0.53), (223, 0.49), (224, 0.52), (225, 0.48), (226, 0.51), (227, 0.55), (228, 0.50),
    (229, 0.53), (230, 0.49), (231, 0.52), (232, 0.48), (233, 0.51), (234, 0.47), (235, 0.50), (236, 0.46),
    (237, 0.49), (238, 0.45), (239, 0.48), (240, 0.51), (241, 0.47), (242, 0.50), (243, 0.53), (244, 0.49),
    (245, 0.52), (246, 0.55), (247, 0.51), (248, 0.54), (249, 0.50), (250, 0.47), (251, 0.53), (252, 0.49),
    (253, 0.46), (254, 0.50), (255, 0.44), (256, 0.48), (257, 0.42), (258, 0.46), (259, 0.40), (260, 0.45),
    (261, 0.43), (262, 0.47), (263, 0.44), (264, 0.48), (265, 0.42), (266, 0.46), (267, 0.44), (268, 0.48),
    (269, 0.45), (272, 0.55), (273, 0.59), (274, 0.56), (275, 0.60), (276, 0.57), (277, 0.61), (278, 0.58),
    (279, 0.62), (280, 0.59), (281, 0.56), (282, 0.60), (283, 0.57), (284, 0.61), (285, 0.58), (286, 0.55),
    (287, 0.59), (288, 0.56), (289, 0.60), (290, 0.57), (291, 0.54), (292, 0.58), (293, 0.55), (294, 0.59),
    (295, 0.56), (296, 0.53), (297, 0.57), (298, 0.54), (299, 0.51), (300, 0.55), (301, 0.47), (302, 0.43),
    (303, 0.48), (304, 0.45), (305, 0.50), (306, 0.55), (307, 0.52), (308, 0.57), (309, 0.60), (310, 0.58),
    (311, 0.62), (312, 0.65), (313, 0.61), (314, 0.66), (315, 0.63), (316, 0.67), (317, 0.64), (318, 0.68),
    (319, 0.62), (320, 0.66), (321, 0.63), (322, 0.60), (323, 0.65), (324, 0.61), (325, 0.64), (326, 0.60),
    (327, 0.63), (328, 0.59), (329, 0.62), (330, 0.58), (331, 0.61), (332, 0.64), (333, 0.60), (334, 0.63),
    (335, 0.59), (336, 0.62), (337, 0.58), (338, 0.61), (339, 0.57), (340, 0.60), (341, 0.56), (342, 0.59),
    (343, 0.55), (344, 0.58), (345, 0.54), (346, 0.57), (347, 0.60), (348, 0.56), (349, 0.59), (350, 0.55),
    (351, 0.58), (352, 0.54), (353, 0.57), (354, 0.53), (355, 0.56), (356, 0.52), (357, 0.55), (358, 0.51),
    (359, 0.54), (360, 0.50), (361, 0.53), (362, 0.49), (363, 0.52), (364, 0.48), (365, 0.51), (366, 0.47),
    (367, 0.50), (368, 0.46), (369, 0.49), (370, 0.45), (371, 0.48), (372, 0.44), (373, 0.47), (374, 0.43),
    (375, 0.46), (376, 0.42), (377, 0.45), (378, 0.41), (379, 0.44), (380, 0.40), (381, 0.43), (382, 0.39),
    (383, 0.42), (384, 0.38), (385, 0.41), (386, 0.37), (387, 0.40), (388, 0.36), (389, 0.39), (390, 0.35),
    (391, 0.44), (392, 0.33), (393, 0.40), (394, 0.30), (395, 0.46), (396, 0.35), (397, 0.28), (398, 0.42),
    (399, 0.32), (400, 0.26), (401, 0.38), (402, 0.45), (403, 0.29), (404, 0.36), (405, 0.24), (406, 0.40),
    (407, 0.31), (408, 0.48), (409, 0.27), (410, 0.35), (411, 0.22), (412, 0.42), (413, 0.30), (414, 0.19),
    (415, 0.37), (416, 0.44), (417, 0.26), (418, 0.33), (419, 0.21), (420, 0.39), (421, 0.28), (422, 0.34),
    (423, 0.24), (424, 0.31), (425, 0.38), (426, 0.27), (427, 0.18), (428, 0.33), (429, 0.40), (430, 0.29),
    (431, 0.36), (432, 0.25), (433, 0.32), (434, 0.17), (435, 0.30), (436, 0.37), (437, 0.26), (438, 0.33),
    (439, 0.28), (440, 0.35), (441, 0.30), (442, 0.24), (443, 0.32), (444, 0.38), (445, 0.29), (446, 0.34),
    (447, 0.40), (448, 0.31), (449, 0.26), (450, 0.36), (451, 0.42), (452, 0.33), (453, 0.28), (454, 0.37),
    (455, 0.44), (456, 0.34), (457, 0.23), (458, 0.39), (459, 0.31), (460, 0.36), (461, 0.28), (462, 0.41),
    (463, 0.33), (464, 0.37), (465, 0.30), (466, 0.43), (467, 0.35), (468, 0.40), (469, 0.32), (470, 0.38),
    (471, 0.45), (472, 0.36), (473, 0.30), (474, 0.41), (475, 0.34), (476, 0.27), (477, 0.38), (478, 0.31),
    (479, 0.22), (480, 0.36), (481, 0.29), (482, 0.40), (483, 0.25), (484, 0.33), (485, 0.20), (486, 0.37),
    (487, 0.28), (488, 0.42), (489, 0.24), (490, 0.35), (491, 0.18), (492, 0.10), (493, 0.31), (494, 0.45),
    (495, 0.20), (496, 0.38), (497, 0.48), (498, 0.55), (499, 0.42), (500, 0.52), (501, 0.58), (502, 0.62),
    (503, 0.55), (504, 0.65), (505, 0.60), (506, 0.68), (507, 0.63), (508, 0.58), (509, 0.66), (510, 0.61),
    (511, 0.69), (512, 0.64), (513, 0.59), (514, 0.67), (515, 0.62), (516, 0.70), (517, 0.65), (518, 0.60),
    (519, 0.56), (520, 0.63), (521, 0.86), (521.5, 0.58), (522, 0.53), (523, 0.60), (524, 0.55), (525, 0.50),
    (526, 0.57), (527, 0.52), (528, 0.48), (529, 0.55), (530, 0.51), (531, 0.57), (532, 0.53), (533, 0.59),
    (534, 0.55), (535, 0.51), (536, 0.57), (537, 0.53), (538, 0.58), (539, 0.54), (540, 0.50), (541, 0.56),
    (542, 0.52), (543, 0.48), (544, 0.54), (545, 0.50), (546, 0.46), (547, 0.52), (548, 0.48), (549, 0.53),
    (550, 0.49), (551, 0.54), (552, 0.50), (553, 0.55), (554, 0.51), (555, 0.57), (556, 0.53), (557, 0.58),
    (558, 0.55), (559, 0.60), (560, 0.57), (561, 0.62), (562, 0.59), (563, 0.64), (564, 0.61), (565, 0.66),
    (566, 0.63), (567, 0.68), (568, 0.65), (569, 0.67), (570, 0.69), (571, 0.66), (572, 0.68), (573, 0.70),
    (574, 0.67), (575, 0.69), (576, 0.71), (577, 0.68), (578, 0.70), (579, 0.72), (580, 0.69), (581, 0.71),
    (582, 0.68), (583, 0.70), (584, 0.67), (585, 0.69), (586, 0.72), (587, 0.74), (588, 0.71), (589, 0.76),
    (590, 0.73), (591, 0.78), (592, 0.75), (593, 0.72), (594, 0.77), (595, 0.74), (596, 0.79), (597, 0.76),
    (598, 0.73), (599, 0.78), (600, 0.75), (601, 0.72), (602, 0.77), (603, 0.74), (604, 0.79), (605, 0.76),
    (606, 0.73), (607, 0.71), (608, 0.75), (609, 0.68), (610, 0.72), (611, 0.66), (612, 0.70), (613, 0.52),
    (614, 0.72), (615, 0.51), (616, 0.74), (617, 0.71), (618, 0.76), (619, 0.73), (620, 0.78), (621, 0.75),
    (622, 0.80), (623, 0.77), (624, 0.82), (625, 0.79), (626, 0.84), (627, 0.81), (628, 0.86), (629, 1.05),
    (630, 1.38),
]

# binned means with error bars (Ls, mean, half-range)
err_blue = [
    (-18.6, 0.98, 0.05), (-5.3, 0.91, 0.05), (6.9, 0.885, 0.045), (16.8, 0.86, 0.035), (27.4, 0.85, 0.04),
    (36, 0.945, 0.05), (46, 0.96, 0.05), (55, 0.96, 0.05), (64, 1.0, 0.055), (73, 1.0, 0.055),
    (82, 1.085, 0.065), (93, 0.945, 0.06), (103, 0.945, 0.06), (114, 0.96, 0.07), (124, 0.9, 0.065),
    (134, 1.03, 0.055), (143.5, 1.185, 0.07), (153.5, 1.05, 0.055), (166, 1.0, 0.05), (242.6, 0.95, 0.05),
    (257, 1.02, 0.05), (270, 1.075, 0.055), (292.5, 1.03, 0.05), (335.6, 1.145, 0.065), (375.5, 1.03, 0.055),
    (385.4, 1.1, 0.06), (395, 1.08, 0.06), (405.3, 1.21, 0.07), (415, 1.0, 0.06), (426.7, 0.985, 0.065),
    (437.5, 0.86, 0.075), (447.5, 1.06, 0.063), (458.6, 1.08, 0.065), (468, 1.01, 0.065), (480.6, 1.06, 0.065),
    (492, 1.145, 0.07), (504.6, 1.04, 0.06), (515.6, 0.96, 0.045), (526.7, 1.06, 0.057), (537.7, 1.1, 0.065),
    (549, 0.92, 0.04),
]
err_red = [
    (-30.8, 0.635, 0.065), (-5.5, 0.54, 0.05), (6.6, 0.48, 0.045), (19.9, 0.415, 0.05), (29.8, 0.385, 0.065),
    (39.8, 0.4, 0.08), (49.8, 0.37, 0.17), (60.8, 0.35, 0.09), (70.7, 0.33, 0.09), (80.6, 0.35, 0.1),
    (89.5, 0.35, 0.09), (98.3, 0.335, 0.095), (108, 0.34, 0.09), (117, 0.29, 0.083), (126.8, 0.34, 0.12),
    (136.8, 0.71, 0.1), (146.7, 0.71, 0.065), (157.8, 0.615, 0.063), (170.7, 0.68, 0.07), (185, 0.505, 0.05),
    (202, 0.51, 0.05), (214, 0.49, 0.05), (227.7, 0.525, 0.053), (239.6, 0.48, 0.047), (252.9, 0.57, 0.057),
    (265.5, 0.44, 0.05), (279, 0.58, 0.06), (291, 0.575, 0.06), (303.6, 0.45, 0.047), (318.7, 0.635, 0.057),
    (329, 0.6, 0.06), (340, 0.58, 0.057), (351, 0.575, 0.06), (361, 0.51, 0.055), (372, 0.48, 0.045),
    (381.5, 0.44, 0.065), (391.5, 0.39, 0.07), (402.5, 0.315, 0.085), (414, 0.375, 0.115), (425.6, 0.43, 0.095),
    (436.6, 0.31, 0.1), (448.3, 0.455, 0.12), (462, 0.47, 0.09), (476, 0.355, 0.095), (486, 0.48, 0.12),
    (495.8, 0.38, 0.105), (505.7, 0.64, 0.07), (516.8, 0.61, 0.065), (527.8, 0.495, 0.055), (539.4, 0.565, 0.06),
    (553.8, 0.53, 0.06), (567, 0.63, 0.06), (579.4, 0.68, 0.065), (592.4, 0.72, 0.074), (604.6, 0.725, 0.075),
    (618.5, 0.77, 0.078),
]

# reference levels (mean and +-1 sigma) for the two ratios
levels_blue = [0.765, 1.02, 1.22]
levels_red = [0.265, 0.525, 0.724]

W, H = 1158, 845
fig = plt.figure(figsize=(W / 100, H / 100), dpi=100)


def box(top, bottom):
    return [75 / W, 1 - bottom / H, (1092 - 75) / W, (bottom - top) / H]


def ftext(x, y, s, **kw):
    fig.text(x / W, 1 - y / H, s, ha='center', va='center', **kw)


def pull_in_end_labels(ax):
    # end labels sit inside the frame, like the IDL axes
    labs = ax.get_yticklabels()
    labs[0].set_verticalalignment('bottom')
    labs[-1].set_verticalalignment('top')


def frame(ax, ls_off, year_off=-11.9, my_off=-23.8):
    ax.set_xlim(-46, 630)
    ax.set_xticks(np.arange(0, 631, 45))
    ax.set_xticklabels([])
    ax.tick_params(axis='x', direction='in', top=True, length=4, width=1, color='#333333')
    for sp in ax.spines.values():
        sp.set_color('#3a3a3a')
        sp.set_linewidth(1.3)
    for ls, lab in zip(season_ls, season_labels):
        if ls in year_ls:
            ax.annotate(lab, xy=(ls, 0), xycoords=('data', 'axes fraction'), xytext=(0, year_off),
                        textcoords='offset points', ha='center', va='center', fontsize=13)
        else:
            ax.annotate(lab, xy=(ls, 0), xycoords=('data', 'axes fraction'), xytext=(0, ls_off),
                        textcoords='offset points', ha='center', va='center', fontsize=9.5)
    ax.annotate('Mars Year', xy=(0.5, 0), xycoords='axes fraction', xytext=(0, my_off),
                textcoords='offset points', ha='center', va='center', fontsize=12.5)


def depth_axes(ax):
    ax.set_ylim(0, 3)
    ax.set_yticks([0, 1, 2, 3])
    ax.yaxis.set_minor_locator(MultipleLocator(0.2))
    ax.tick_params(axis='y', which='major', direction='in', length=15, width=1, labelsize=11.5, pad=8)
    ax.tick_params(axis='y', which='minor', direction='in', length=8, width=1)
    pull_in_end_labels(ax)
    ax2 = ax.twinx()
    ax2.set_ylim(0, 1.5)
    ax2.set_yticks([0, 0.5, 1.0, 1.5])
    ax2.yaxis.set_major_formatter(FormatStrFormatter('%.1f'))
    ax2.yaxis.set_minor_locator(MultipleLocator(0.1))
    ax2.tick_params(axis='y', which='major', direction='in', length=14, width=1, labelsize=13, pad=4)
    ax2.tick_params(axis='y', which='minor', direction='in', length=7, width=1)
    pull_in_end_labels(ax2)
    for sp in ax2.spines.values():
        sp.set_color('#3a3a3a')
        sp.set_linewidth(1.3)
    return ax2


# ---- (A) ----
ax_a = fig.add_axes(box(25, 237))
frame(ax_a, ls_off=-7.6)
ax_a2 = depth_axes(ax_a)
x, y = np.array(vis_a).T
ax_a.scatter(x, y, s=9, facecolors='none', edgecolors='#d42525', linewidths=0.8, alpha=0.85, zorder=2)
x, y = np.array(ir_a).T
ax_a2.plot(x, y, color='black', lw=1.25, drawstyle='steps-mid', zorder=3)

# ---- (B) ----
ax_b = fig.add_axes(box(301, 512))
frame(ax_b, ls_off=-7.6)
ax_b2 = depth_axes(ax_b)
x, y = np.array(vis_b).T
ax_b.scatter(x, y, s=9, facecolors='none', edgecolors='#2a2aff', linewidths=0.8, alpha=0.85, zorder=2)
x, y = np.array(ir_b).T
ax_b2.plot(x, y, color='black', lw=1.25, drawstyle='steps-mid', zorder=3)

# ---- (C) ----
ax_c = fig.add_axes(box(581, 792))
frame(ax_c, ls_off=-13.7, year_off=-11.5, my_off=-31)
ax_c.set_ylim(0, 1.4)
ax_c.set_yticks([0, 1])
ax_c.yaxis.set_minor_locator(MultipleLocator(0.2))
ax_c.tick_params(axis='y', which='major', direction='in', right=True, length=14, width=1, labelsize=11.5, pad=8)
ax_c.tick_params(axis='y', which='minor', direction='in', right=True, length=7, width=1)
ax_c.get_yticklabels()[0].set_verticalalignment('bottom')
ax_c.hlines(levels_blue, -17.8, 550.5, colors='#444444', linestyles=(0, (1, 1.6)), lw=0.9, zorder=1)
ax_c.hlines(levels_red, -31, 568, colors='#444444', linestyles=(0, (1, 1.6)), lw=0.9, zorder=1)
x, y = np.array(ratio_blue).T
ax_c.scatter(x, y, s=22, marker='^', facecolors='none', edgecolors='#3030f2', linewidths=0.8, zorder=2)
x, y = np.array(ratio_red).T
ax_c.scatter(x, y, s=17, marker='D', facecolors='none', edgecolors='#e03030', linewidths=0.7, zorder=2)
for errs in (err_blue, err_red):
    x, c, h = np.array(errs).T
    ax_c.errorbar(x, c, yerr=h, fmt='none', ecolor='black', elinewidth=1.3, capsize=3.6, capthick=1.3, zorder=5)

# axis titles and panel tags
ftext(36, 131, 'Visible optical depth', rotation=90, fontsize=11.5)
ftext(1148, 131, 'Infrared optical depth', rotation=90, fontsize=13.5)
ftext(35, 406, 'Visible optical depth', rotation=90, fontsize=11.5)
ftext(1143, 406, 'Infrared optical depth', rotation=90, fontsize=13.5)
ftext(37, 686, 'Optical depth ratio', rotation=90, fontsize=12.5)
ftext(23, 19, '(A)', fontsize=13)
ftext(26, 299, '(B)', fontsize=13)
ftext(28, 585, '(C)', fontsize=13)
fig.add_artist(plt.Line2D([11 / W, 11 / W], [1 - 4 / H, 1 - 423 / H], transform=fig.transFigure,
                          color='#808080', lw=1.5))

fig.savefig('out.png', dpi=100)
